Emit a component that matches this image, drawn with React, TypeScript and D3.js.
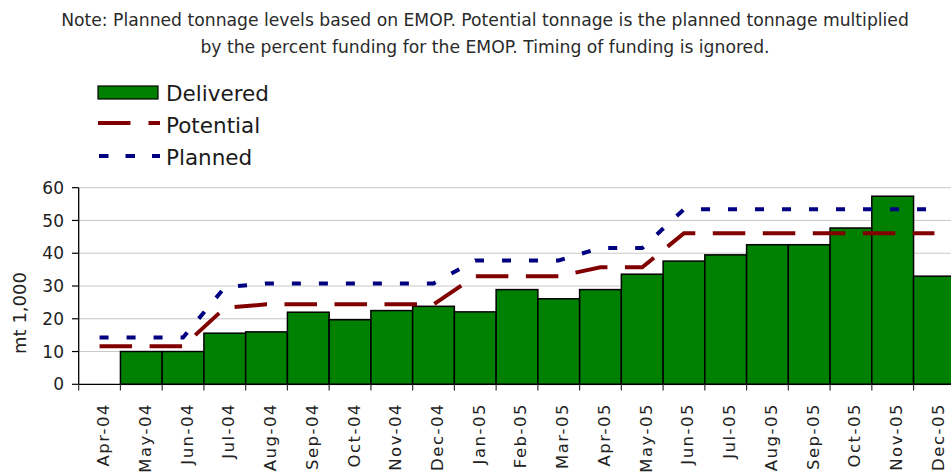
import React from "react";
import * as d3 from "d3";

const months = [
  "Apr-04", "May-04", "Jun-04", "Jul-04", "Aug-04", "Sep-04", "Oct-04", "Nov-04", "Dec-04",
  "Jan-05", "Feb-05", "Mar-05", "Apr-05", "May-05", "Jun-05", "Jul-05", "Aug-05", "Sep-05",
  "Oct-05", "Nov-05", "Dec-05",
];
const delivered = [0, 10, 10, 15.6, 16.0, 22.0, 19.7, 22.5, 23.8, 22.1, 28.9, 26.1, 28.9, 33.6, 37.6, 39.5, 42.6, 42.6, 47.7, 57.4, 33.0];
const potential = [11.6, 11.6, 11.6, 23.3, 24.4, 24.4, 24.4, 24.4, 24.4, 33.0, 33.0, 33.0, 35.7, 35.7, 46.1, 46.1, 46.1, 46.1, 46.1, 46.1, 46.1];
const planned = [14.3, 14.3, 14.3, 29.6, 30.8, 30.8, 30.8, 30.8, 30.8, 37.8, 37.8, 37.8, 41.6, 41.6, 53.4, 53.4, 53.4, 53.4, 53.4, 53.4, 53.4];
const yTicks = [0, 10, 20, 30, 40, 50, 60];
const noteLines = [
  "Note: Planned tonnage levels based on EMOP. Potential tonnage is the planned tonnage multiplied",
  "by the percent funding for the EMOP. Timing of funding is ignored.",
];
const legendItems = ["Delivered", "Potential", "Planned"];

const W = 951;
const H = 472;
const FONT = "'DejaVu Sans', Verdana, sans-serif";

export default function App() {
  const x = d3.scaleBand<string>().domain(months).range([78.7, 955.3]).padding(0);
  const y = d3.scaleLinear().domain([0, 60]).range([384.3, 187.7]);
  const bw = x.bandwidth();
  const cx = (m: string) => (x(m) as number) + bw / 2;

  const line = d3
    .line<number>()
    .x((_, i) => cx(months[i]))
    .y((d) => y(d));

  const boundaries = d3.range(months.length + 1).map((i) => 78.7 + i * bw);

  return (
    <svg width={W} height={H} style={{ position: "absolute", left: 0, top: 0, background: "#fff" }} fontFamily={FONT}>
      {/* note */}
      {noteLines.map((t, i) => (
        <text key={i} x={485} y={26 + i * 27} textAnchor="middle" fontSize={17.2} fill="#2a2a2a">
          {t}
        </text>
      ))}

      {/* legend */}
      <rect x={98} y={86} width={60} height={13} fill="#008000" stroke="#000" strokeWidth={1.2} />
      <line x1={98} x2={160} y1={123} y2={123} stroke="#800000" strokeWidth={4} strokeDasharray="32.5,18" />
      <line x1={99} x2={160} y1={156} y2={156} stroke="#000080" strokeWidth={4} strokeDasharray="9.5,17" />
      {legendItems.map((t, i) => (
        <text key={t} x={166} y={93 + i * 32} dy="0.36em" fontSize={21.5} fill="#1a1a1a">
          {t}
        </text>
      ))}

      {/* gridlines */}
      {yTicks.filter((t) => t > 0).map((t) => (
        <line key={t} x1={78.7} x2={W} y1={y(t)} y2={y(t)} stroke="#c8c8c8" strokeWidth={1} />
      ))}

      {/* bars */}
      {months.map((m, i) =>
        delivered[i] > 0 ? (
          <rect
            key={m}
            x={x(m)}
            y={y(delivered[i])}
            width={bw}
            height={y(0) - y(delivered[i])}
            fill="#008000"
            stroke="#000"
            strokeWidth={1.5}
          />
        ) : null
      )}

      {/* lines */}
      <path d={line(potential) || ""} fill="none" stroke="#800000" strokeWidth={4} strokeDasharray="32.5,17.5" />
      <path d={line(planned) || ""} fill="none" stroke="#000080" strokeWidth={4} strokeDasharray="9,18" />

      {/* axes */}
      <line x1={78.7} x2={78.7} y1={187.7} y2={384.3} stroke="#000" strokeWidth={1.3} />
      <line x1={78.7} x2={W} y1={384.3} y2={384.3} stroke="#000" strokeWidth={1.3} />
      {yTicks.map((t) => (
        <g key={t}>
          <line x1={72} x2={78.7} y1={y(t)} y2={y(t)} stroke="#000" strokeWidth={1.2} />
          <text x={64} y={y(t)} dy="0.36em" textAnchor="end" fontSize={17} fill="#222">
            {t}
          </text>
        </g>
      ))}
      {boundaries.map((b, i) => (
        <line key={i} x1={b} x2={b} y1={384.3} y2={390.5} stroke="#333" strokeWidth={1.2} />
      ))}
      {months.map((m) => (
        <text
          key={m}
          transform={`translate(${cx(m) + 3.7},403) rotate(-90)`}
          dy="0.35em"
          textAnchor="end"
          fontSize={16.5}
          letterSpacing={1.5}
          fill="#222"
        >
          {m}
        </text>
      ))}
      <text transform="translate(20,313) rotate(-90)" dy="0.35em" textAnchor="middle" fontSize={18} fill="#222">
        mt 1,000
      </text>
    </svg>
  );
}
